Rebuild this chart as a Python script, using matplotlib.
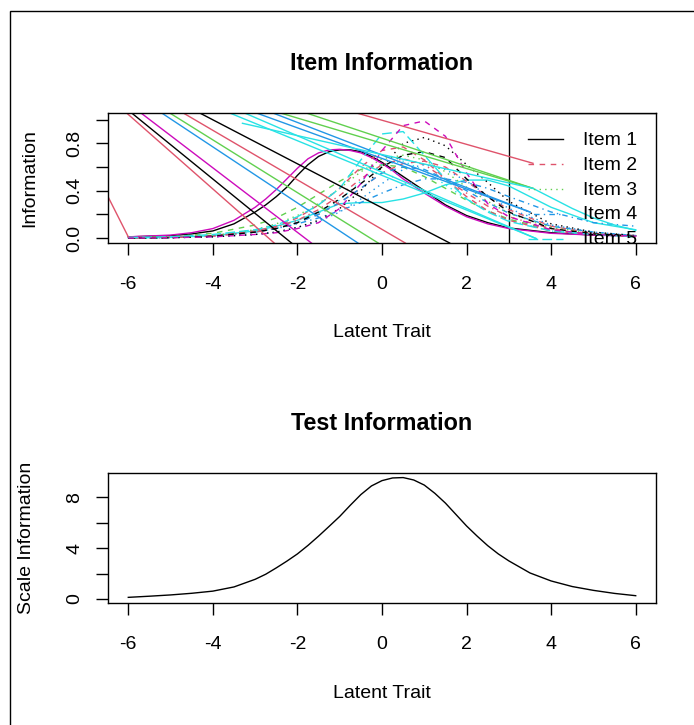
import numpy as np
import matplotlib
matplotlib.use('Agg')
import matplotlib.pyplot as plt
from matplotlib.patches import Rectangle

plt.rcParams['font.family'] = ['Liberation Sans', 'DejaVu Sans']

W, H = 694, 725

# R default palette
BLACK = '#000000'
RED = '#DF536B'
GREEN = '#61D04F'
BLUE = '#2297E6'
CYAN = '#28E2E5'
MAGENTA = '#CD0BBC'

# ---- item information curves ----
theta_fine = [-6, -5, -4.5, -4, -3.5, -3, -2.75, -2.5, -2.25, -2, -1.75, -1.5, -1.25, -1,
              -0.75, -0.5, -0.25, 0, 0.25, 0.5, 0.75, 1, 1.5, 2, 2.5, 3, 4, 5, 6]
black_solid = [0.01, 0.02, 0.035, 0.06, 0.12, 0.22, 0.28, 0.35, 0.43, 0.53, 0.62, 0.69, 0.73, 0.745,
               0.745, 0.73, 0.69, 0.64, 0.58, 0.52, 0.46, 0.40, 0.28, 0.19, 0.13, 0.085, 0.045, 0.025, 0.02]
magenta_solid = [0.01, 0.025, 0.045, 0.08, 0.15, 0.26, 0.33, 0.41, 0.50, 0.59, 0.67, 0.72, 0.745, 0.75,
                 0.74, 0.72, 0.68, 0.63, 0.57, 0.50, 0.44, 0.38, 0.27, 0.18, 0.12, 0.08, 0.04, 0.025, 0.015]

theta = [-6, -5, -4, -3, -2.5, -2, -1.5, -1, -0.5, 0, 0.5, 1, 1.5, 2, 2.5, 3, 4, 5, 6]
magenta_dashed = [0.0, 0.003, 0.01, 0.03, 0.045, 0.08, 0.13, 0.25, 0.46, 0.74, 0.95, 0.99, 0.86, 0.55, 0.29, 0.18, 0.07, 0.03, 0.015]
cyan_longdash = [0.005, 0.01, 0.03, 0.07, 0.11, 0.18, 0.28, 0.42, 0.66, 0.88, 0.90, 0.70, 0.50, 0.33, 0.22, 0.14, 0.06, 0.03, 0.01]
black_dotted = [0.0, 0.003, 0.01, 0.03, 0.05, 0.09, 0.15, 0.25, 0.40, 0.60, 0.80, 0.85, 0.78, 0.62, 0.47, 0.31, 0.12, 0.05, 0.02]
black_dashed = [0.0, 0.004, 0.015, 0.05, 0.08, 0.13, 0.22, 0.33, 0.46, 0.60, 0.70, 0.73, 0.68, 0.50, 0.35, 0.22, 0.08, 0.035, 0.015]
red_dashed_a = [0.0, 0.005, 0.02, 0.06, 0.10, 0.17, 0.28, 0.42, 0.60, 0.74, 0.77, 0.66, 0.50, 0.35, 0.23, 0.15, 0.06, 0.03, 0.01]
red_dashed_b = [0.0, 0.004, 0.015, 0.05, 0.08, 0.13, 0.20, 0.30, 0.42, 0.55, 0.63, 0.65, 0.60, 0.48, 0.35, 0.24, 0.10, 0.04, 0.02]
red_dotdash = [0.0, 0.004, 0.015, 0.05, 0.09, 0.15, 0.24, 0.36, 0.50, 0.62, 0.67, 0.62, 0.50, 0.38, 0.27, 0.18, 0.08, 0.035, 0.015]
green_dotted = [0.0, 0.005, 0.02, 0.07, 0.12, 0.19, 0.29, 0.42, 0.56, 0.67, 0.70, 0.66, 0.56, 0.43, 0.31, 0.21, 0.09, 0.04, 0.015]
green_dashed = [0.005, 0.01, 0.04, 0.11, 0.17, 0.26, 0.37, 0.48, 0.58, 0.62, 0.60, 0.52, 0.42, 0.32, 0.23, 0.16, 0.07, 0.03, 0.015]
blue_dotdash = [0.0, 0.005, 0.02, 0.05, 0.08, 0.12, 0.17, 0.23, 0.30, 0.38, 0.45, 0.50, 0.50, 0.47, 0.42, 0.35, 0.22, 0.13, 0.10]
blue_dotted = [0.0, 0.003, 0.01, 0.03, 0.05, 0.09, 0.14, 0.22, 0.33, 0.46, 0.58, 0.62, 0.58, 0.48, 0.36, 0.25, 0.11, 0.05, 0.02]
blue_dashed = [0.0, 0.004, 0.015, 0.05, 0.08, 0.13, 0.20, 0.30, 0.42, 0.55, 0.60, 0.58, 0.50, 0.40, 0.30, 0.21, 0.10, 0.05, 0.02]
cyan_dotted = [0.0, 0.004, 0.015, 0.05, 0.08, 0.13, 0.21, 0.32, 0.48, 0.62, 0.65, 0.57, 0.45, 0.33, 0.23, 0.15, 0.06, 0.03, 0.01]
cyan_solid = [0.0, 0.005, 0.02, 0.06, 0.10, 0.15, 0.22, 0.29, 0.30, 0.30, 0.33, 0.38, 0.45, 0.49, 0.49, 0.44, 0.26, 0.13, 0.07]

# dash patterns as in R's lty 1..5
LTY = {
    'solid': None,
    'dashed': (4, 4),
    'dotted': (1, 3),
    'dotdash': (1, 3, 4, 3),
    'longdash': (7, 3),
}

curves = [
    (theta_fine, black_solid, BLACK, 'solid'),
    (theta_fine, magenta_solid, MAGENTA, 'solid'),
    (theta, cyan_solid, CYAN, 'solid'),
    (theta, blue_dotdash, BLUE, 'dotdash'),
    (theta, red_dashed_b, RED, 'dashed'),
    (theta, green_dashed, GREEN, 'dashed'),
    (theta, blue_dashed, BLUE, 'dashed'),
    (theta, red_dotdash, RED, 'dotdash'),
    (theta, blue_dotted, BLUE, 'dotted'),
    (theta, cyan_dotted, CYAN, 'dotted'),
    (theta, green_dotted, GREEN, 'dotted'),
    (theta, red_dashed_a, RED, 'dashed'),
    (theta, black_dashed, BLACK, 'dashed'),
    (theta, black_dotted, BLACK, 'dotted'),
    (theta, cyan_longdash, CYAN, 'longdash'),
    (theta, magenta_dashed, MAGENTA, 'dashed'),
]

# ---- stray straight segments (start x, start y, end x, end y) ----
seg_x0 = [-6.04, -5.92, -5.70, -5.21, -5.02, -4.70, -4.31, -3.25, -2.97, -2.58, -1.79, -0.60, -6.48, -2.40, -3.6]
seg_y0 = [1.057, 1.057, 1.057, 1.057, 1.057, 1.057, 1.057, 1.057, 1.057, 1.057, 1.057, 1.057, 0.35, 1.057, 1.057]
seg_x1 = [-2.55, -2.14, -1.67, -0.57, -0.09, 0.55, 1.60, 3.65, 3.50, 3.50, 3.57, 3.57, -6.00, 3.57, 3.65]
seg_y1 = [-0.042, -0.042, -0.042, -0.042, -0.042, -0.042, -0.042, -0.005, 0.22, 0.22, 0.42, 0.632, 0.01, 0.42, -0.005]
seg_col = [RED, BLACK, MAGENTA, BLUE, GREEN, RED, BLACK, CYAN, BLUE, BLUE, GREEN, RED, RED, GREEN, CYAN]

cyan_tail_x = [-3.3, 3.57, 4.5, 5.0, 5.5, 6.0]
cyan_tail_y = [0.97, 0.42, 0.25, 0.17, 0.11, 0.065]

# legend
leg_labels = ['Item 1', 'Item 2', 'Item 3', 'Item 4', 'Item 5']
leg_cols = [BLACK, RED, GREEN, BLUE, CYAN]
leg_lty = ['solid', 'dashed', 'dotted', 'dotdash', 'longdash']
leg_y = [0.836, 0.626, 0.416, 0.206, -0.004]

# ---- test information ----
theta_t = [-6, -5.5, -5, -4.5, -4, -3.5, -3, -2.75, -2.5, -2.25, -2, -1.75, -1.5, -1.25, -1,
           -0.75, -0.5, -0.25, 0, 0.25, 0.5, 0.75, 1, 1.25, 1.5, 1.75, 2, 2.25, 2.5, 2.75, 3,
           3.5, 4, 4.5, 5, 5.5, 6]
test_info = [0.13, 0.22, 0.32, 0.45, 0.62, 0.95, 1.55, 1.95, 2.45, 2.98, 3.55, 4.22, 4.95, 5.72, 6.5,
             7.38, 8.22, 8.9, 9.32, 9.53, 9.56, 9.37, 8.97, 8.32, 7.55, 6.65, 5.75, 4.95, 4.2, 3.55, 3.0,
             2.05, 1.42, 0.98, 0.68, 0.44, 0.26]

FS = 14
LW = 1.0


def styled_line(ax, x, y, col, lty, **kw):
    ln, = ax.plot(x, y, color=col, lw=LW, **kw)
    if LTY[lty] is not None:
        ln.set_dashes(LTY[lty])
    return ln


def tick_text(vals):
    if max(vals) < 2:
        return [f'{v:.1f}' for v in vals]
    return [f'{v:g}' for v in vals]


def r_axes(ax, yticks, ylab_at):
    for s in ax.spines.values():
        s.set_linewidth(1.0)
    ax.set_xlim(-6.48, 6.48)
    ax.set_xticks([-6, -4, -2, 0, 2, 4, 6])
    ax.set_xticklabels(['-6', '-4', '-2', '0', '2', '4', '6'])
    ax.set_yticks(ylab_at)
    ax.set_yticklabels(tick_text(ylab_at), rotation=90, va='center')
    ax.set_yticks([t for t in yticks if t not in ylab_at], minor=True)
    ax.tick_params(axis='both', which='both', direction='out', length=8.5, width=1.0)
    ax.tick_params(axis='x', labelsize=FS, pad=15.5)
    ax.tick_params(axis='y', labelsize=FS, pad=9.5)


fig = plt.figure(figsize=(W / 100, H / 100), dpi=100)


def fax(l, t, r, b):
    return fig.add_axes([l / W, 1 - b / H, (r - l) / W, (b - t) / H])


# ---- top panel ----
ax1 = fax(108, 113, 656, 243)
for xs, ys, col, lty in curves:
    styled_line(ax1, xs, ys, col, lty)
for x0, y0, x1, y1, c in zip(seg_x0, seg_y0, seg_x1, seg_y1, seg_col):
    ax1.plot([x0, x1], [y0, y1], color=c, lw=LW)
ax1.plot(cyan_tail_x, cyan_tail_y, color=CYAN, lw=LW)

# legend box (clipped by the plot region, as in the original)
ax1.add_patch(Rectangle((3.0, -0.5), 5.0, 1.557, fill=False, lw=1.0, ec='black'))
for lab, c, lt, y in zip(leg_labels, leg_cols, leg_lty, leg_y):
    styled_line(ax1, [3.45, 4.28], [y, y], c, lt)
    ax1.text(4.75, y - 0.01, lab, fontsize=FS, ha='left', va='center', clip_on=True)

ax1.set_ylim(-0.042, 1.057)
r_axes(ax1, [0, 0.2, 0.4, 0.6, 0.8, 1.0], [0.0, 0.4, 0.8])

# ---- bottom panel ----
ax2 = fax(108, 473, 656, 603)
ax2.plot(theta_t, test_info, color=BLACK, lw=LW)
ax2.set_ylim(-0.315, 9.92)
r_axes(ax2, [0, 2, 4, 6, 8], [0, 4, 8])

# titles and axis labels
fig.text(382 / W, 1 - 63 / H, 'Item Information', ha='center', va='center',
         fontsize=16.8, fontweight='bold')
fig.text(382 / W, 1 - 424 / H, 'Test Information', ha='center', va='center',
         fontsize=16.8, fontweight='bold')
fig.text(382 / W, 1 - 333 / H, 'Latent Trait', ha='center', va='center', fontsize=FS)
fig.text(382 / W, 1 - 693 / H, 'Latent Trait', ha='center', va='center', fontsize=FS)
fig.text(30 / W, 1 - 178 / H, 'Information', ha='center', va='center',
         rotation=90, fontsize=FS)
fig.text(27 / W, 1 - 538 / H, 'Scale Information', ha='center', va='center',
         rotation=90, fontsize=FS)

# outer frame (only left/top edges fall inside the image)
fig.patches.append(Rectangle((9.5 / W, -0.1), 1.2, 1 - 11 / H + 0.1, fill=False,
                             lw=1.0, ec='black', transform=fig.transFigure, figure=fig))

fig.savefig('out.png', dpi=100, facecolor='white')
